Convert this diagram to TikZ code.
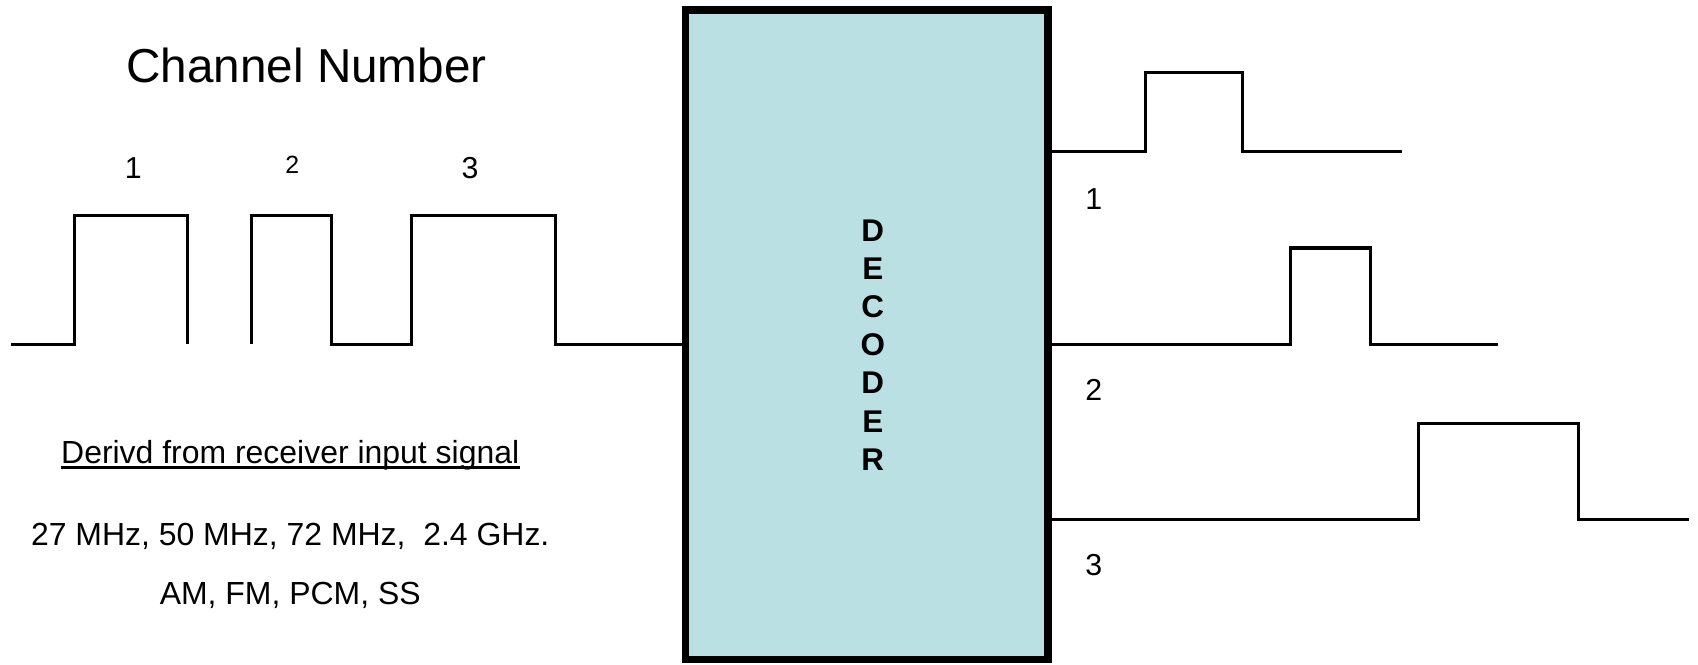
\documentclass[tikz,border=0pt]{standalone}
\usepackage{fontspec}
\setmainfont{Liberation Sans}
\definecolor{boxfill}{RGB}{187,224,227}
\begin{document}
\begin{tikzpicture}[x=1pt,y=-1pt,
  sig/.style={line width=2.8pt, line join=miter, line cap=butt},
  decbox/.style={draw=black, line width=7pt, fill=boxfill, minimum width=335pt, minimum height=600pt, inner sep=0pt},
  big/.style={font=\fontsize{44}{52}\selectfont},
  txt/.style={font=\fontsize{29.5}{36}\selectfont},
  num/.style={font=\fontsize{28}{34}\selectfont},
  smallnum/.style={font=\fontsize{23}{28}\selectfont},
  declbl/.style={font=\bfseries\fontsize{29}{35.3}\selectfont, align=center}]
\useasboundingbox (0,0) rectangle (1568,614);
\node[decbox] (dec) at (800.5,309) {};
\node[declbl] (declabel) at (806,318.5) {D\\E\\C\\O\\D\\E\\R};

% left side texts
\node[big] (title) at (283,60) {Channel Number};
\node[num] (n1) at (123,155) {1};
\node[smallnum] (n2) at (270,152) {2};
\node[num] (n3) at (434,155) {3};
\node[txt] (derived) at (268,420) {Derivd from receiver input signal};
\draw[line width=2pt] ([xshift=3pt,yshift=-4pt]derived.base west) -- ([xshift=-3pt,yshift=-4pt]derived.base east);
\node[txt] (freq) at (268,495) {27 MHz, 50 MHz, 72 MHz,\ \ 2.4 GHz.};
\node[txt] (mod) at (268,550) {AM, FM, PCM, SS};

% left input signal
\coordinate (in) at (513,318);
\draw[sig] (10,318) -- (69,318) -- (69,199) -- (173,199) -- (173,318);
\draw[sig] (232,318) -- (232,199) -- (306,199) -- (306,318) -- (380,318) -- (380,199) -- (513,199) -- (in) -- (in -| dec.west);

% right output signals
\coordinate (o1) at (1058,140);
\coordinate (o2) at (1192,318);
\coordinate (o3) at (1310,480);
\draw[sig] (o1 -| dec.east) -- (o1) -- (1058,67) -- (1147,67) -- (1147,140) -- (1295,140);
\draw[sig] (o2 -| dec.east) -- (o2) -- (1192,229) -- (1266,229) -- (1266,318) -- (1383,318);
\draw[sig] (o3 -| dec.east) -- (o3) -- (1310,391) -- (1458,391) -- (1458,480) -- (1560,480);

\node[num] (r1) at (1010,184) {1};
\node[num] (r2) at (1010,360) {2};
\node[num] (r3) at (1010,522) {3};
\end{tikzpicture}
\end{document}
